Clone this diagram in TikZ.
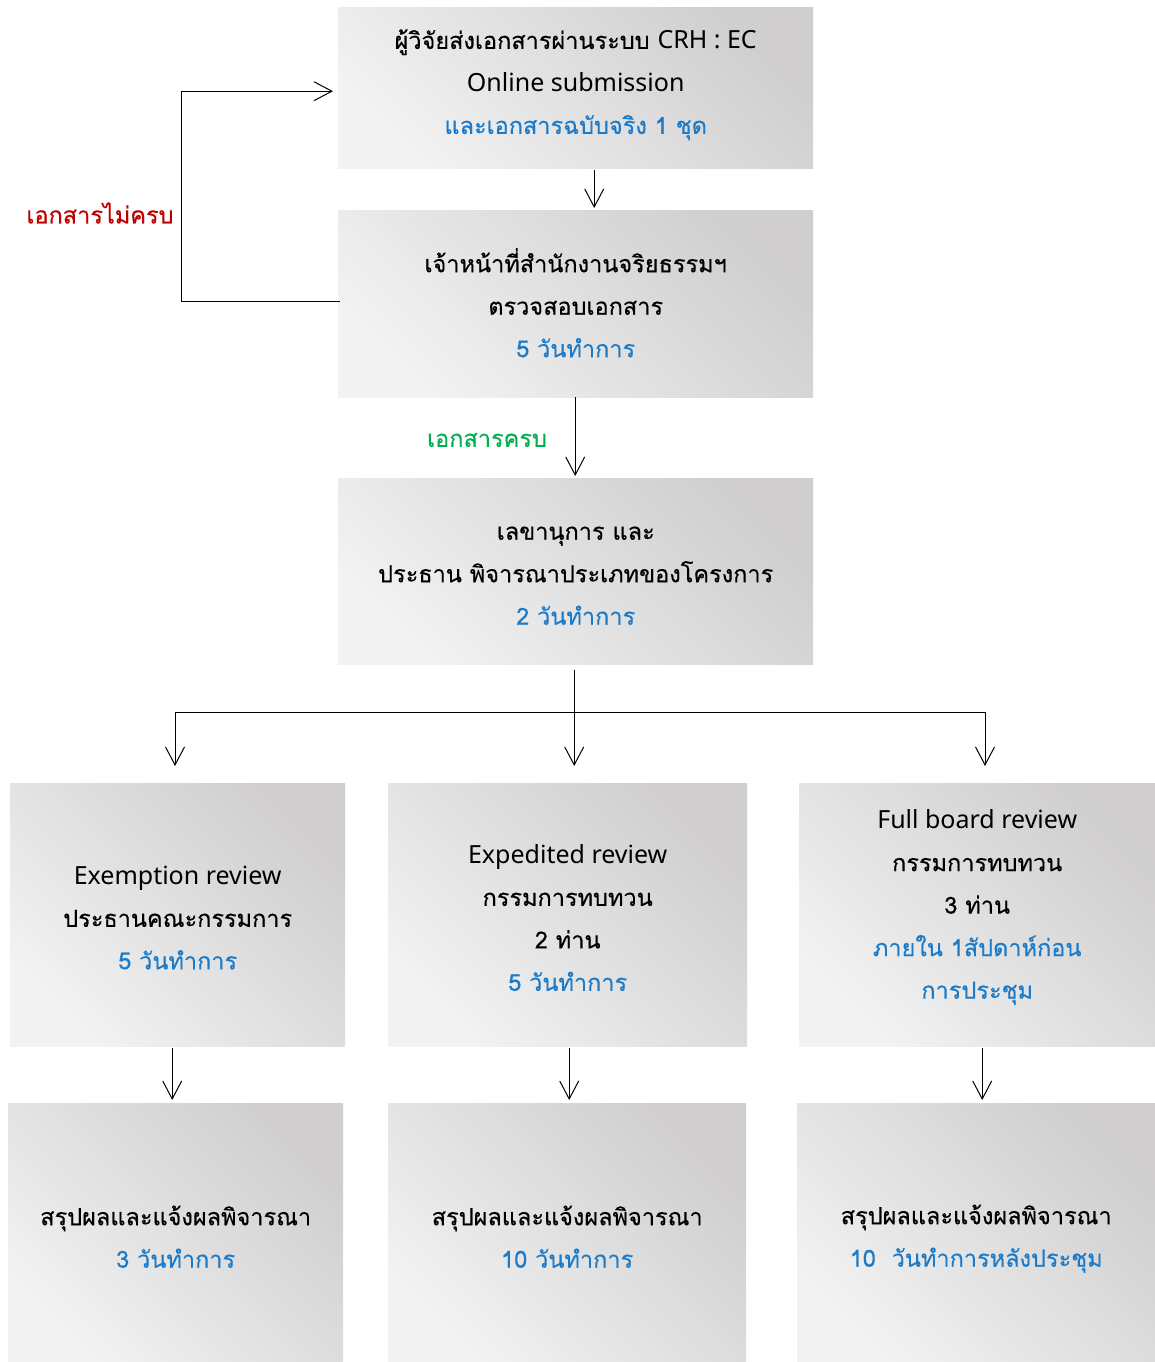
\documentclass[tikz,border=0pt]{standalone}
\usepackage{fontspec}
\setmainfont{Loma}[Script=Thai, FakeBold=0.4]
\newfontfamily\latfont{Noto Sans}
\newcommand{\lt}[1]{{\latfont\fontsize{25}{42.5}\selectfont #1}}
\usetikzlibrary{arrows.meta}
\definecolor{tblue}{HTML}{1B7BC8}
\definecolor{tred}{HTML}{C00000}
\definecolor{tgreen}{HTML}{00B050}
\definecolor{gdark}{HTML}{D0CECE}
\definecolor{glight}{HTML}{F2F2F2}
\begin{document}
\begin{tikzpicture}[x=1pt,y=-1pt,
  box/.style={inner sep=0pt, anchor=north west,
    top color=gdark, bottom color=glight, shading angle=-45},
  txt/.style={inner sep=0pt, align=center, font=\fontsize{23.5}{42.5}\selectfont},
  arr/.style={-{Straight Barb[length=18pt,width=19pt]}, line width=1pt},
  conn/.style={line width=1pt},
  lbl/.style={font=\fontsize{23.5}{28}\selectfont}]
\useasboundingbox (0,0) rectangle (1155,1362);

\node[box, minimum width=475pt, minimum height=161pt] (b1) at (338,7) {};
\node[box, minimum width=475pt, minimum height=187pt] (b2) at (338,210) {};
\node[box, minimum width=475pt, minimum height=186pt] (b3) at (338,478) {};
\node[box, minimum width=335pt, minimum height=263pt] (bA) at (10,783) {};
\node[box, minimum width=359pt, minimum height=263pt] (bB) at (388,783) {};
\node[box, minimum width=356pt, minimum height=263pt] (bC) at (799,783) {};
\node[box, minimum width=335pt, minimum height=259pt] (cA) at (8,1103) {};
\node[box, minimum width=358pt, minimum height=259pt] (cB) at (388,1103) {};
\node[box, minimum width=358pt, minimum height=259pt] (cC) at (797,1103) {};

\node[txt] (t1) at ([yshift=3pt]b1.center)
  {ผู้วิจัยส่งเอกสารผ่านระบบ \lt{CRH : EC}\\\lt{Online submission}\\\textcolor{tblue}{และเอกสารฉบับจริง 1 ชุด}};
\node[txt] (t2) at ([yshift=1pt]b2.center)
  {เจ้าหน้าที่สำนักงานจริยธรรมฯ\\ตรวจสอบเอกสาร\\\textcolor{tblue}{5 วันทำการ}};
\node[txt] (t3) at ([yshift=-4.5pt]b3.center)
  {เลขานุการ และ\\ประธาน พิจารณาประเภทของโครงการ\\\textcolor{tblue}{2 วันทำการ}};
\node[txt] (tA) at ([yshift=-3pt]bA.center)
  {\lt{Exemption review}\\ประธานคณะกรรมการ\\\textcolor{tblue}{5 วันทำการ}};
\node[txt] (tB) at ([yshift=-3pt]bB.center)
  {\lt{Expedited review}\\กรรมการทบทวน\\2 ท่าน\\\textcolor{tblue}{5 วันทำการ}};
\node[txt] (tC) at ([yshift=7.5pt]bC.center)
  {\lt{Full board review}\\กรรมการทบทวน\\3 ท่าน\\\textcolor{tblue}{ภายใน 1สัปดาห์ก่อน}\\\textcolor{tblue}{การประชุม}};
\node[txt] (sA) at ([yshift=-4pt]cA.center)
  {สรุปผลและแจ้งผลพิจารณา\\\textcolor{tblue}{3 วันทำการ}};
\node[txt] (sB) at ([yshift=-4pt]cB.center)
  {สรุปผลและแจ้งผลพิจารณา\\\textcolor{tblue}{10 วันทำการ}};
\node[txt] (sC) at ([yshift=-6pt]cC.center)
  {สรุปผลและแจ้งผลพิจารณา\\\textcolor{tblue}{10\ \ วันทำการหลังประชุม}};

\node[lbl, text=tred] (nok) at (100,213) {เอกสารไม่ครบ};
\node[lbl, text=tgreen] (ok) at (487,440) {เอกสารครบ};

% b1 -> b2
\draw[arr, shorten <=2pt, shorten >=2pt] ([xshift=18.5pt]b1.south) -- ([xshift=18.5pt]b2.north);
% loop back
\draw[arr, shorten >=5pt] ([yshift=2.5pt,xshift=2pt]b2.west) -- ++(-159,0) |- ([yshift=-3.5pt]b1.west);
% b2 -> b3
\draw[arr, shorten >=2pt] ([xshift=-0.5pt]b2.south) -- ([xshift=-0.5pt]b2.south |- b3.north);
% branching
\coordinate (jA) at (175,712);
\coordinate (jC) at (985,712);
\draw[arr, shorten <=6pt, shorten >=17pt] ([xshift=-1.5pt]b3.south) -- ([xshift=-1.5pt]b3.south |- bB.north);
\draw[conn] (jA) -- (jC);
\draw[arr, shorten >=17pt] (jA) -- (jA |- bA.north);
\draw[arr, shorten >=17pt] (jC) -- (jC |- bC.north);
% second row -> third row
\draw[arr, shorten <=2pt, shorten >=3pt] ([xshift=-5.5pt]bA.south) -- ([xshift=-5.5pt]bA.south |- cA.north);
\draw[arr, shorten <=2pt, shorten >=3pt] ([xshift=1.5pt]bB.south) -- ([xshift=1.5pt]bB.south |- cB.north);
\draw[arr, shorten <=2pt, shorten >=3pt] ([xshift=5pt]bC.south) -- ([xshift=5pt]bC.south |- cC.north);
\end{tikzpicture}
\end{document}
